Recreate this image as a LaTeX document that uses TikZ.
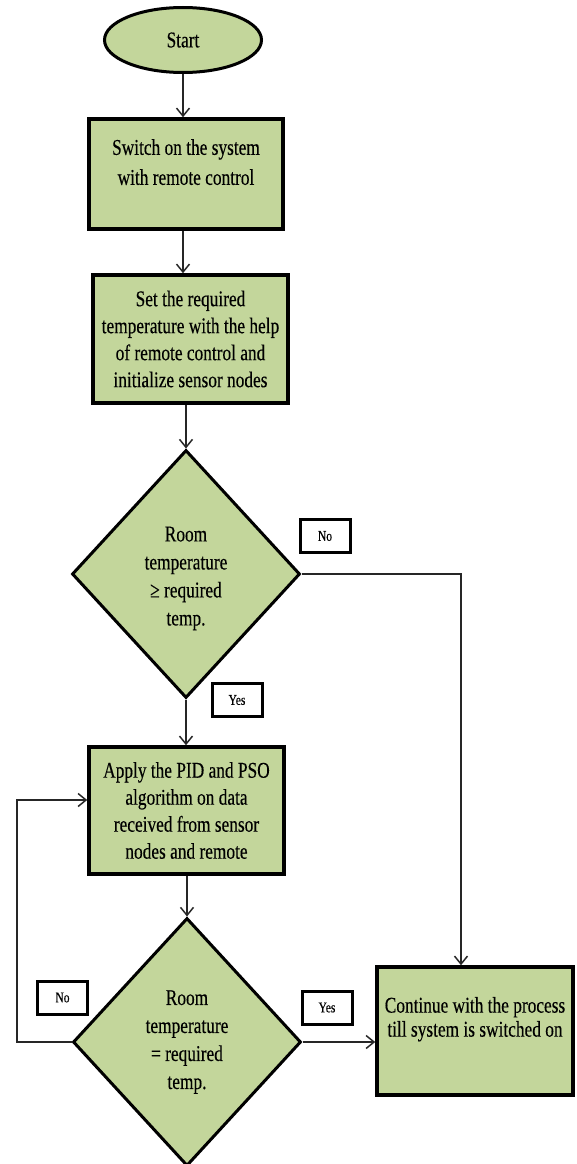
\documentclass[tikz,border=0pt]{standalone}
\usepackage{fontspec}
\setmainfont{Liberation Serif}[FakeStretch=0.77,FakeBold=0.3]
\usetikzlibrary{shapes.geometric,arrows.meta}
\definecolor{boxgreen}{HTML}{C3D69B}
\definecolor{wire}{HTML}{262626}
% a centred block of lines, shifted vertically inside its shape
\newcommand\liftedlines[2]{\raisebox{#1}[0pt][0pt]{\begin{tabular}{@{}c@{}}#2\end{tabular}}}
\begin{document}
\begin{tikzpicture}[x=1pt,y=-1pt,
  every node/.style={font=\fontsize{22.5}{27}\selectfont, align=center, inner sep=0pt},
  stepbox/.style={rectangle, draw=black, line width=3.5pt, fill=boxgreen},
  startnode/.style={ellipse, draw=black, line width=3pt, fill=boxgreen},
  decision/.style={diamond, draw=black, line width=3pt, fill=boxgreen,
    minimum width=228pt, minimum height=248pt, font=\fontsize{22.5}{28}\selectfont},
  tag/.style={rectangle, draw=black, line width=3pt, fill=white,
    minimum width=50pt, minimum height=33pt, font=\fontsize{15}{15}\selectfont},
  flow/.style={draw=wire, line width=1.5pt, -{Straight Barb[length=8pt,width=13pt]}},
]
\useasboundingbox (0,0) rectangle (576,1164);

% process steps
\node[startnode, minimum width=157pt, minimum height=65pt] (start) at (183,40) {Start};
\node[stepbox, minimum width=194pt, minimum height=110pt, font=\fontsize{22.5}{30}\selectfont]
  (switch) at (186,174) {\liftedlines{5pt}{Switch on the system\\with remote control}};
\node[stepbox, minimum width=195pt, minimum height=128pt] (setup) at (190.5,339)
  {Set the required\\temperature with the help\\of remote control and\\initialize sensor nodes};
\node[decision] (check1) at (186,574) {\liftedlines{-9pt}{Room\\temperature\\≥ required\\temp.}};
\node[stepbox, minimum width=195pt, minimum height=127pt] (apply) at (186.5,810.5)
  {Apply the PID and PSO\\algorithm on data\\received from sensor\\nodes and remote};
\node[decision] (check2) at (187,1042) {Room\\temperature\\= required\\temp.};
\node[stepbox, minimum width=196pt, minimum height=128pt, font=\fontsize{22.5}{24}\selectfont]
  (cont) at (475,1031) {\liftedlines{6pt}{Continue with the process\\till system is switched on}};

% branch tags
\node[tag] (no1) at (325,536) {No};
\node[tag] (yes1) at (237,700) {Yes};
\node[tag] (no2) at (62.5,997.5) {No};
\node[tag] (yes2) at (327,1007.5) {Yes};

% connectors
\coordinate (loopx) at (17,800);
\draw[flow] (start.south) -- (start.south |- switch.north);
\draw[flow] (start.south |- switch.south) -- (start.south |- setup.north);
\draw[flow] (check1.north |- setup.south) -- (check1.north);
\draw[flow] (check1.east) -| ([xshift=-14pt]cont.north);
\draw[flow] (check1.south) -- (check1.south |- apply.north);
\draw[flow] (check2.north |- apply.south) -- (check2.north);
\draw[flow] (check2.east) -- (check2.east -| cont.west);
\draw[flow] (check2.west) -| (loopx) -- (loopx -| apply.west);
\end{tikzpicture}
\end{document}
